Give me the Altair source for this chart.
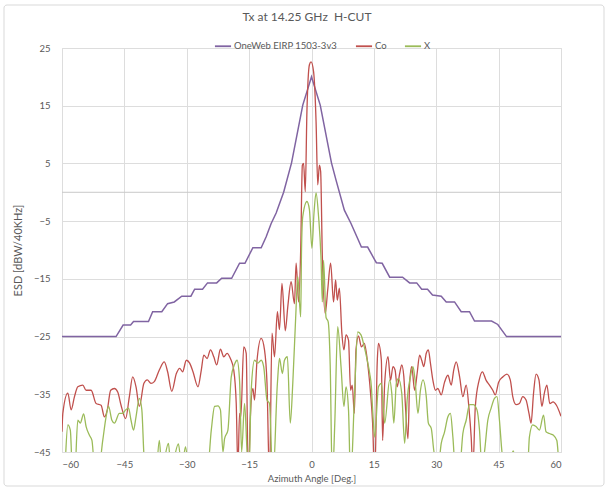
import altair as alt
import pandas as pd

# ---- data ----
env_deg = [-60, -47, -45.3, -43.5, -42.8, -39.2, -38.2, -36, -34.6, -33, -31.2, -29, -28.1, -26.2,
           -25, -22.8, -21.6, -19.2, -17.3, -16.0, -14.1, -12.1, -10.9, -9.7, -8.5, -6.7, -4.8,
           -2.1, 0, 2.1, 4.8, 5.9, 7.9, 9.5, 11.1, 12, 13.5, 15.2, 15.6, 17, 18.8, 21.9, 23.6,
           25.3, 26.5, 27.9, 29.1, 31.2, 32.4, 34.4, 36, 38, 39.2, 43.3, 44.8, 46.9, 60]
env_val = [-25, -25, -23, -23, -22.4, -22.4, -20.7, -20.7, -19.3, -19.0, -18, -18, -16.8, -16.8,
           -15.7, -15.7, -14.9, -14.9, -12.3, -12.3, -9.6, -9.6, -7.7, -5.4, -3.6, 0, 5.1,
           15.1, 20, 15.1, 5.1, 2.1, -3.1, -5.4, -8, -9.5, -9.5, -11.7, -12.2, -12.3, -14.7, -14.7, -15.7,
           -15.7, -16.8, -16.8, -17.8, -18, -19, -19, -20.7, -20.7, -22.3, -22.3, -22.9, -25, -25]

co_deg = [-60, -59.8, -58.6, -57.8, -57.0, -56.2, -55.0, -54.2, -53.0, -51.8, -50.6, -49.8, -49.1,
          -48.3, -47.4, -46.6, -45.8, -44.7, -43.8, -43.0, -42.2, -41.4, -40.3, -39.5, -38.6,
          -37.8, -36.6, -35.4, -34.6, -33.6, -32.5, -31.7, -31.0, -30.1, -29.3, -28.5, -27.3,
          -26.5, -25.9, -25.1, -24.3, -23.5, -22.8, -21.9, -21.1, -20.3, -19.5, -18.7, -18.1,
          -17.7, -17.3, -17.0, -16.3, -15.7, -15.2, -14.7, -14.1, -13.7, -13.1, -12.1, -11.3,
          -10.7, -10.1, -9.5, -8.9, -8.2, -7.7, -7.1, -6.3, -5.7, -4.9, -4.1, -3.7, -3.1, -2.6,
          -2.2, -1.9, -1.5, -1.1, -0.5, -0.1, 0.5, 1.1, 1.5, 1.9, 2.2, 2.6, 3.3, 3.9, 4.6, 5.3,
          5.8, 6.2, 6.7, 7.3, 7.8, 8.3, 8.9, 9.4, 9.8, 10.3, 10.7, 11.3, 12.0, 12.7, 13.5, 14.2,
          14.7, 15.2, 15.8, 16.1, 16.8, 17.1, 17.6, 18.4, 19.0, 19.6, 20.1, 20.6, 21.2, 21.7,
          22.2, 22.6, 23.2, 23.6, 24.1, 24.8, 25.4, 26.0, 26.5, 27.0, 27.6, 28.1, 28.6, 29.2,
          29.8, 30.4, 31.2, 32.0, 32.8, 33.6, 34.2, 34.8, 35.6, 36.4, 37.2, 37.9, 38.4, 38.8,
          39.4, 40.3, 41.1, 42.0, 42.8, 43.6, 44.2, 45.0, 46.0, 47.0, 47.8, 48.4, 49.2, 50.0,
          50.8, 51.6, 52.3, 52.8, 53.4, 54.0, 54.7, 55.4, 56.0, 56.6, 57.3, 58.1, 58.9, 60]
co_val = [-41.5, -38.3, -34.8, -37.7, -35.4, -33.7, -33.4, -34.3, -34.3, -36.6, -36.9, -38.9, -37.7,
          -34.3, -34.0, -34.6, -36.9, -39.2, -35.4, -32.0, -33.7, -37.1, -33.1, -32.5, -33.1,
          -32.8, -30.8, -29.4, -31.1, -34.5, -31.4, -30.5, -31.1, -29.1, -29.6, -31.1, -33.7,
          -30.8, -28.2, -28.8, -27.3, -28.5, -29.9, -27.2, -28.5, -27.9, -28.8, -30.8, -36.6,
          -48, -38.3, -38.9, -26.8, -27.9, -50, -38.9, -34, -36, -29.1, -25.3, -27.3,
          -33.1, -50, -24.4, -28.5, -20.7, -23.8, -15.8, -24, -19.8, -15.5, -19.3, -12.3, -19, -10.0,
          4.7, 5.0, 0.1, 14.0, 22.1, 22.6, 20.9, 12.2, 1.3, 4.7, 3.6, -10.9, -21, -16.9, -12.3, -19,
          -15.2, -18.7, -16.6, -24.4, -27.3, -24.7, -25.6, -34.3, -33.4, -38.3, -27.3, -24.9, -26.8, -26.2, -29.6, -34.8,
          -40, -50, -29.6, -26.2, -29.1, -43, -33.1, -28.5, -32.6, -30.2, -30.8, -33.7, -31.4, -29.9,
          -31.9, -37.1, -42.7, -33.1, -30.2, -34.3, -31.4, -28.2, -29.1, -30.2, -27.9, -27.3, -29.6, -32.6,
          -34.3, -34.0, -35.1, -32.9, -31.7, -33.4, -30.8, -29.4, -31.9, -35.4, -33.4, -37.7, -42.4, -48,
          -37.1, -32.6, -31.1, -32.6, -33.4, -34.3, -35.1, -32.9, -32.0, -31.5, -32.5, -35.4, -36.8, -36.6,
          -35.4, -36.0, -38.3, -40, -34.8, -31.5, -32.5, -37.1, -34.8, -33.4, -36.6, -36.3, -36.9, -38.8]

x_deg = [-60, -59.6, -58.6, -58.0, -57.4, -57.0, -56.2, -55.6, -54.8, -54.2, -53.4, -52.8, -52.2,
         -51.0, -50.2, -49.4, -48.8, -48.0, -47.4, -46.2, -45.4, -44.7, -44.0, -43.4, -42.8, -42.2,
         -41.4, -40.8, -40.3, -39.5, -37.5, -36.6, -36.0, -34.4, -33.8, -32.0, -31.2, -30.3, -29.5,
         -25.0, -24.1, -23.3, -22.5, -21.9, -21.3, -20.9, -20.1, -19.3, -18.5, -17.9, -17.3, -16.8,
         -16.1, -15.5, -15.1, -14.5, -13.7, -12.9, -12.1, -11.5, -10.7, -10.1, -9.3, -8.2, -7.7,
         -7.0, -6.5, -5.8, -5.1, -4.5, -3.8, -3.3, -2.6, -2.4, -2.1, -1.1, -0.5, 0.1, 0.6, 1.1, 1.7,
         2.3, 2.6, 2.9, 3.5, 4.0, 4.5, 5.0, 5.6, 6.3, 7.1, 7.8, 8.3, 8.9, 9.4, 10.3, 11.1, 11.9, 12.7,
         13.4, 14.0, 14.4, 14.7, 15.2, 16.1, 16.8, 17.6, 18.8, 19.3, 19.8, 20.4, 20.9, 21.7, 22.4,
         23.0, 23.8, 24.4, 24.9, 25.6, 26.2, 26.8, 27.6, 28.1, 28.8, 29.4, 30.4, 31.2, 32.0, 32.8,
         33.4, 34.0, 34.6, 35.6, 36.4, 37.2, 38.0, 38.9, 39.8, 40.4, 41.0, 41.6, 42.4, 43.2, 44.0,
         44.6, 45.2, 45.8, 46.4, 48.0, 48.5, 49.0, 52.0, 52.4, 53.2, 54.0, 54.8, 55.8, 56.4, 57.2,
         58.2, 59.0, 59.6, 60]
x_val = [-50, -50, -40.3, -41.2, -50, -50, -39.5, -40.0, -38.4, -40.6, -42.1, -43.0, -47,
         -47, -43, -38.9, -37.1, -39.5, -40.0, -38.3, -38.3, -37.7, -37.4, -39.5, -41.2, -38.9,
         -35.7, -37.7, -45.5, -50, -50, -43, -48, -43.5, -48, -43.6, -48, -44.1, -48,
         -48, -41.2, -37.1, -37.0, -37.7, -45, -42.7, -41.2, -32.0, -29.8, -29.1, -32.6, -45,
         -36.6, -45, -50, -34.3, -29.1, -29.6, -29.1, -30.2, -36, -36.6, -50, -33.1, -28.8,
         -31.4, -29.1, -28.5, -40, -33.1, -21.6, -14.6, -21.6, -10, -4.2, -1.6, -3.0, -9.7, -3.6, -0.1, -4.2,
         -11.7, -19, -11.8, -21.7, -22.4, -30, -50, -40, -23.3, -30.2, -37.1, -33.7, -37.7, -50, -36, -24.2, -24.7, -26.8,
         -29.1, -31.4, -33.7, -37.7, -42.4, -33.7, -33.1, -40, -32.5, -34.8, -40, -33.1, -32.3, -34.8, -43.5,
         -36, -31.9, -30.2, -32.5, -38.3, -34.3, -32.5, -35.4, -40, -40.9, -44.7, -48, -43.5, -41.5, -38.9,
         -38.3, -42.4, -48, -48, -41.8, -39.5, -36.8, -36.8, -37.7, -41.2, -48, -45, -39.5, -37.4, -35.7,
         -35.4, -39.5, -45, -48, -46, -44.8, -46, -47, -42.4, -40.3, -40.6, -41.2, -38.6, -41.5, -41.8,
         -42.1, -43.0, -48, -50]

series_names = ["OneWeb EIRP 1503-3v3", "Co", "X"]
series_colors = ["#8064a2", "#c0504d", "#9bbb59"]
x_ticks = [-60, -45, -30, -15, 0, 15, 30, 45, 60]
y_ticks = [25, 15, 5, -5, -15, -25, -35, -45]
zero_line = [0]
chart_title = "Tx at 14.25 GHz\u00a0 H-CUT"

df = pd.concat([
    pd.DataFrame({"deg": env_deg, "val": env_val, "series": series_names[0], "ord": 0}),
    pd.DataFrame({"deg": co_deg, "val": co_val, "series": series_names[1], "ord": 1}),
    pd.DataFrame({"deg": x_deg, "val": x_val, "series": series_names[2], "ord": 2}),
], ignore_index=True)

FONT = "Lato"
GREY = "#595959"

xscale = alt.Scale(domain=[-60, 60], nice=False, zero=False)
yscale = alt.Scale(domain=[-45, 25], nice=False, zero=False)
cscale = alt.Scale(domain=series_names, range=series_colors)

base = alt.Chart(df).encode(
    x=alt.X("deg:Q", scale=xscale,
            axis=alt.Axis(values=x_ticks, title="Azimuth Angle [Deg.]", grid=True,
                          domain=False, ticks=False, labelPadding=7, titlePadding=5,
                          labelFontSize=9.5, titleFontSize=9.5, titleFontWeight="normal",
                          labelFont=FONT, titleFont=FONT, labelColor=GREY, titleColor=GREY)),
    y=alt.Y("val:Q", scale=yscale,
            axis=alt.Axis(values=y_ticks, title="ESD [dBW/40KHz]", grid=True,
                          domain=False, ticks=False, labelPadding=12, titlePadding=10,
                          labelFontSize=9.5, titleFontSize=11, titleFontWeight="normal",
                          labelFont=FONT, titleFont=FONT, labelColor=GREY, titleColor=GREY)),
    color=alt.Color("series:N", scale=cscale,
                    legend=alt.Legend(title=None, orient="none", direction="horizontal",
                                      legendX=152, legendY=-11, symbolType="stroke",
                                      symbolStrokeWidth=1.8, symbolSize=260,
                                      labelFontSize=9.5, labelColor=GREY, labelFont=FONT,
                                      columnPadding=14, symbolOffset=0, labelOffset=2)),
    detail="ord:N",
)

env_line = base.transform_filter(alt.datum.ord == 0).mark_line(
    strokeWidth=1.5, interpolate="linear", clip=True)
co_line = base.transform_filter(alt.datum.ord == 1).mark_line(
    strokeWidth=1.3, interpolate="monotone", clip=True)
x_line = base.transform_filter(alt.datum.ord == 2).mark_line(
    strokeWidth=1.3, interpolate="monotone", clip=True)

zero_rule = alt.Chart(pd.DataFrame({"z": zero_line})).mark_rule(
    color="#c8c8c8", strokeWidth=1).encode(y=alt.Y("z:Q", scale=yscale))

border = alt.Chart(pd.DataFrame({"z": zero_line})).mark_rect(
    fill=None, stroke="#d9d9d9", strokeWidth=1, cornerRadius=3, clip=False
).encode(x=alt.value(-58), x2=alt.value(542), y=alt.value(-43), y2=alt.value(438))

title_text = alt.Chart(pd.DataFrame({"t": [chart_title]})).mark_text(
    font=FONT, fontSize=12, color=GREY, align="center", baseline="middle", clip=False
).encode(text="t:N", x=alt.value(245), y=alt.value(-31))

chart = alt.layer(border, zero_rule, env_line, co_line, x_line, title_text).properties(
    width=499, height=404,
    autosize=alt.AutoSizeParams(type="none"),
    padding={"left": 62, "top": 48, "right": 48, "bottom": 36},
).configure_view(stroke=None).configure_axis(
    gridColor="#e4e4e4", gridWidth=1
).configure(background="white")

chart.save("out.html", embed_options={"renderer": "svg", "actions": False})
